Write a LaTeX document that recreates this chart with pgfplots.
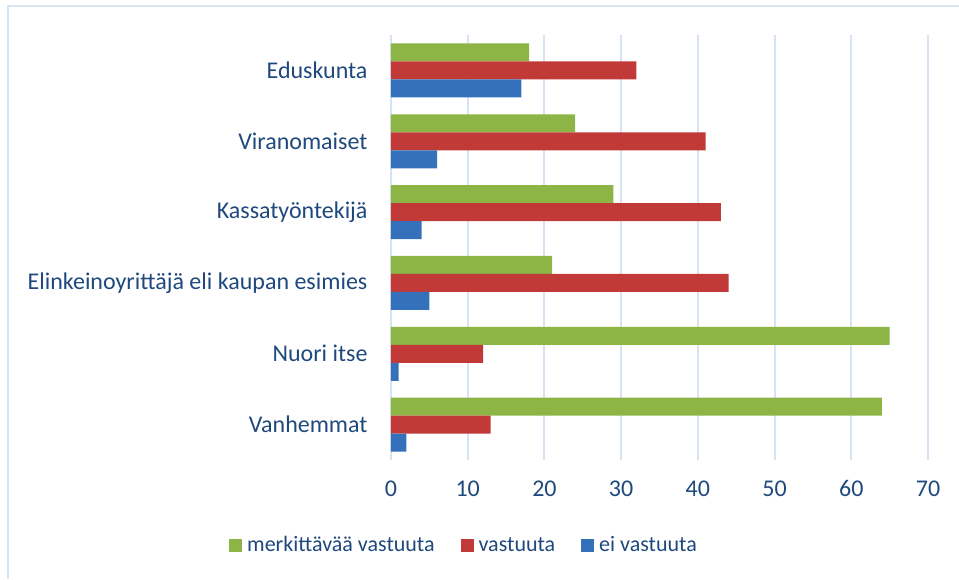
\documentclass[border=0pt]{standalone}
\usepackage{fontspec}
\setmainfont{Carlito}
\usepackage{pgfplots}
\pgfplotsset{compat=1.18}
\definecolor{txt}{HTML}{1F497D}
\definecolor{gridc}{HTML}{D6E3F4}
\definecolor{frame}{HTML}{DAE5F3}
\definecolor{gfill}{HTML}{8DB545}
\definecolor{rfill}{HTML}{C23A38}
\definecolor{bfill}{HTML}{3571BA}
\begin{document}
\begin{tikzpicture}[x=1pt,y=1pt]
\useasboundingbox (0,0) rectangle (959,579);
\draw[color=frame, line width=2.5pt] (8,0) -- (8,573) -- (959,573);
\begin{axis}[
  at={(391pt,119pt)}, anchor=south west,
  scale only axis, width=537pt, height=425pt,
  xmin=0, xmax=70, ymin=-0.5, ymax=5.5,
  xbar, bar width=18pt,
  ytick={0,...,5},
  yticklabels={Vanhemmat,Nuori itse,Elinkeinoyrittäjä eli kaupan esimies,Kassatyöntekijä,Viranomaiset,Eduskunta},
  xtick={0,10,...,70},
  xmajorgrids, grid style={gridc, line width=2pt},
  axis line style={draw=none},
  major tick length=0pt,
  /pgf/number format/assume math mode=true,
  tick label style={font=\fontsize{24}{28}\selectfont, text=txt},
  yticklabel style={xshift=-20pt},
  xticklabel style={yshift=-17pt},
  legend style={at={(axis description cs:0.136,-0.2)}, anchor=center, draw=none,
    font=\fontsize{22}{26}\selectfont, text=txt, legend columns=3,
    /tikz/every odd column/.append style={column sep=3pt},
    /tikz/every even column/.append style={column sep=24pt},
    legend cell align=left},
  legend image code/.code={\fill[#1] (0pt,-6.5pt) rectangle (13pt,6.5pt);},
]
\addplot[draw=none, fill=gfill, bar shift=18pt] coordinates {
(64,0) (65,1) (21,2) (29,3) (24,4) (18,5)};
\addplot[draw=none, fill=rfill, bar shift=0pt] coordinates {
(13,0) (12,1) (44,2) (43,3) (41,4) (32,5)};
\addplot[draw=none, fill=bfill, bar shift=-18pt] coordinates {
(2,0) (1,1) (5,2) (4,3) (6,4) (17,5)};
\legend{merkittävää vastuuta, vastuuta, ei vastuuta}
\end{axis}
\end{tikzpicture}
\end{document}
